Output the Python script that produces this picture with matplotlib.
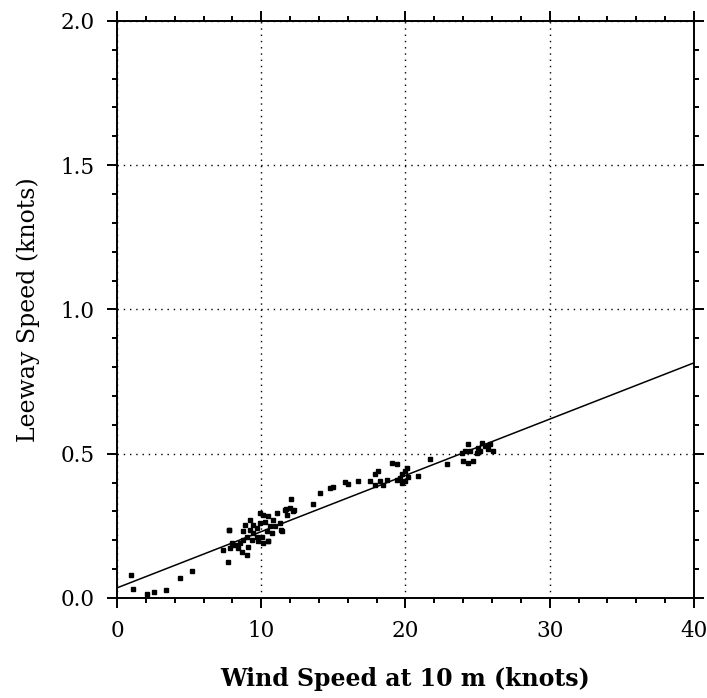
import matplotlib
matplotlib.use("Agg")
import matplotlib.pyplot as plt
from matplotlib.ticker import MultipleLocator

# observed points: wind speed at 10 m (knots) vs leeway speed (knots)
wind = [0.95, 1.13, 2.06, 2.59, 3.40, 4.37, 5.22,
        7.37, 7.83, 8.18, 7.76, 7.72, 8.53, 8.76, 8.99, 8.87, 9.22,
        9.45, 9.68, 9.91, 10.14, 10.49, 10.61, 10.38, 10.03, 9.10, 8.99,
        10.49, 10.84, 11.07, 11.42, 11.65, 12.00, 12.22, 9.68, 9.34, 8.41,
        8.64, 7.94, 9.91, 10.26, 9.45, 9.80, 10.14, 10.72, 10.95, 11.30,
        9.22, 8.76, 7.79, 10.49, 11.70, 11.76, 11.40, 12.04, 12.29,
        13.61, 14.07, 14.77, 14.99, 15.80, 16.04, 16.73, 17.54,
        17.89, 18.12, 17.89, 18.23, 18.46, 18.70, 19.04, 19.39, 19.39,
        19.74, 19.97, 19.74, 19.97, 20.20, 19.60, 20.10,
        20.89, 21.70, 22.86, 23.90, 24.00, 24.35, 24.35, 24.70, 24.12,
        24.47, 25.05, 25.28, 25.51, 25.74, 25.16, 26.09, 24.93, 25.86]
leeway = [0.079, 0.030, 0.014, 0.020, 0.028, 0.070, 0.092,
          0.167, 0.173, 0.184, 0.237, 0.126, 0.190, 0.202, 0.213, 0.254, 0.271,
          0.225, 0.242, 0.260, 0.289, 0.283, 0.248, 0.231, 0.213, 0.178, 0.150,
          0.196, 0.271, 0.295, 0.231, 0.306, 0.312, 0.300, 0.213, 0.202, 0.173,
          0.161, 0.190, 0.295, 0.265, 0.254, 0.196, 0.190, 0.225, 0.248, 0.260,
          0.237, 0.231, 0.237, 0.196, 0.310, 0.289, 0.237, 0.344, 0.304,
          0.327, 0.364, 0.381, 0.385, 0.401, 0.395, 0.405, 0.405,
          0.428, 0.440, 0.393, 0.405, 0.393, 0.410, 0.469, 0.463, 0.410,
          0.428, 0.405, 0.399, 0.440, 0.420, 0.415, 0.450,
          0.422, 0.480, 0.463, 0.503, 0.474, 0.532, 0.469, 0.474, 0.509,
          0.509, 0.521, 0.538, 0.526, 0.515, 0.509, 0.509, 0.503, 0.532]

# fitted line
fit_x = [0, 40]
fit_y = [0.035, 0.815]

plt.rcParams["font.family"] = "DejaVu Serif"

fig = plt.figure(figsize=(7.07, 6.98), dpi=100)
ax = fig.add_axes([0.1655, 0.1433, 0.8161, 0.8267])

ax.plot(fit_x, fit_y, color="black", linewidth=1.1)
ax.plot(wind, leeway, linestyle="none", marker="s", markersize=3.2, color="black")

ax.set_xlim(0, 40)
ax.set_ylim(0, 2.0)
ax.xaxis.set_major_locator(MultipleLocator(10))
ax.xaxis.set_minor_locator(MultipleLocator(2))
ax.yaxis.set_major_locator(MultipleLocator(0.5))
ax.yaxis.set_minor_locator(MultipleLocator(0.1))
ax.yaxis.set_major_formatter(plt.FormatStrFormatter("%.1f"))

ax.tick_params(which="both", direction="out", top=True, right=True, labelsize=15.5, width=1.4)
ax.tick_params(which="major", length=7, pad=9)
ax.tick_params(which="minor", length=3.5)
for s in ax.spines.values():
    s.set_linewidth(1.4)

# dotted grid
ax.grid(which="major", linestyle=(0, (1, 3.5)), color="black", linewidth=1.0)

ax.set_xlabel("Wind Speed at 10 m (knots)", fontsize=17, fontweight="bold", labelpad=18)
ax.set_ylabel("Leeway Speed (knots)", fontsize=17, labelpad=15)

fig.savefig("out.png", dpi=100)
